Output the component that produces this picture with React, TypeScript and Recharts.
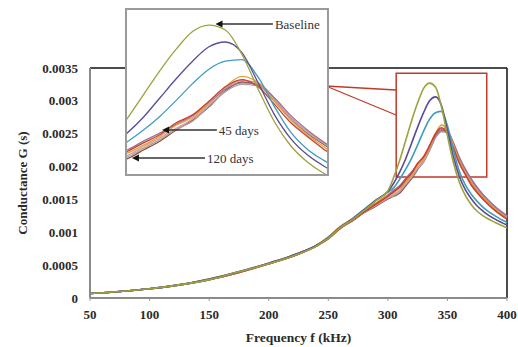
import { LineChart, Line, XAxis, YAxis, ReferenceLine, ReferenceArea } from 'recharts';

const frequencies = [50, 75, 100, 125, 150, 175, 200, 225, 240, 250, 260, 270, 280, 290, 300, 305, 310, 315, 320, 325, 330, 335, 340, 345, 350, 355, 360, 365, 370, 375, 380, 390, 400];

const baseline = [0.00007, 0.0001, 0.00014, 0.0002, 0.00028, 0.0004, 0.00052, 0.00067, 0.00079, 0.00091, 0.00107, 0.00119, 0.00133, 0.00148, 0.00163,
    0.00184, 0.0021, 0.0024, 0.0027, 0.00297, 0.00319, 0.00327, 0.00321, 0.00291, 0.00247, 0.00206, 0.00176, 0.00156, 0.00142, 0.00132, 0.00125, 0.00115, 0.00107];
const day15 = [0.00007, 0.0001, 0.00014, 0.0002, 0.00029, 0.0004, 0.00053, 0.00068, 0.0008, 0.00092, 0.00108, 0.0012, 0.00134, 0.00149, 0.00162,
    0.00175, 0.00192, 0.00212, 0.00236, 0.0026, 0.00282, 0.003, 0.00306, 0.00293, 0.00255, 0.00215, 0.00185, 0.00165, 0.00151, 0.0014, 0.00132, 0.0012, 0.00111];
const day30 = [0.00007, 0.0001, 0.00014, 0.0002, 0.00028, 0.0004, 0.00053, 0.00068, 0.0008, 0.00092, 0.00108, 0.0012, 0.00135, 0.00149, 0.00161,
    0.00168, 0.00181, 0.00196, 0.00213, 0.00233, 0.00254, 0.00272, 0.00282, 0.00284, 0.00262, 0.00225, 0.00193, 0.00172, 0.00158, 0.00147, 0.00138, 0.00125, 0.00115];
const day45 = [0.00007, 0.0001, 0.00014, 0.0002, 0.00028, 0.00039, 0.00052, 0.00067, 0.00079, 0.00091, 0.00106, 0.00118, 0.00131, 0.00143, 0.00155,
    0.00162, 0.00169, 0.0018, 0.0019, 0.00205, 0.00215, 0.00232, 0.0025, 0.00259, 0.0025, 0.00228, 0.00205, 0.00188, 0.00172, 0.0016, 0.0015, 0.00133, 0.0012];
const day60 = [0.00007, 0.0001, 0.00014, 0.0002, 0.00029, 0.0004, 0.00053, 0.00068, 0.0008, 0.00093, 0.00109, 0.0012, 0.00133, 0.00144, 0.00156,
    0.00161, 0.00167, 0.00177, 0.00188, 0.00202, 0.00212, 0.0023, 0.0025, 0.00263, 0.00255, 0.00232, 0.00208, 0.0019, 0.00175, 0.00162, 0.00152, 0.00135, 0.00121];
const day75 = [0.00007, 0.0001, 0.00014, 0.0002, 0.00028, 0.0004, 0.00052, 0.00067, 0.0008, 0.00092, 0.00107, 0.00119, 0.00132, 0.00144, 0.00157,
    0.00164, 0.00171, 0.00182, 0.00192, 0.00203, 0.00214, 0.0023, 0.00247, 0.00255, 0.00253, 0.00236, 0.00214, 0.00196, 0.00181, 0.00168, 0.00157, 0.00139, 0.00125];
const day90 = [0.00007, 0.0001, 0.00014, 0.0002, 0.00028, 0.00039, 0.00052, 0.00068, 0.0008, 0.00091, 0.00107, 0.00118, 0.00131, 0.00142, 0.00153,
    0.00158, 0.00164, 0.00175, 0.00186, 0.00198, 0.0021, 0.00228, 0.00248, 0.00258, 0.00255, 0.00235, 0.00212, 0.00194, 0.0018, 0.00167, 0.00156, 0.00138, 0.00124];
const day105 = [0.00007, 0.0001, 0.00014, 0.0002, 0.00028, 0.00039, 0.00052, 0.00067, 0.00079, 0.00091, 0.00106, 0.00118, 0.00131, 0.00141, 0.00152,
    0.00156, 0.00162, 0.00173, 0.00184, 0.00197, 0.00207, 0.00226, 0.00244, 0.00253, 0.00251, 0.00233, 0.0021, 0.00193, 0.00179, 0.00166, 0.00156, 0.00138, 0.00124];
const day120 = [0.00007, 0.0001, 0.00014, 0.0002, 0.00028, 0.00039, 0.00052, 0.00067, 0.00079, 0.0009, 0.00106, 0.00117, 0.0013, 0.0014, 0.00151,
    0.00155, 0.0016, 0.00171, 0.00182, 0.00196, 0.00208, 0.00225, 0.00245, 0.00256, 0.00252, 0.00232, 0.0021, 0.00192, 0.00178, 0.00165, 0.00155, 0.00137, 0.00123];

const xTicks = [50, 100, 150, 200, 250, 300, 350, 400];
const yTicks = [0, 0.0005, 0.001, 0.0015, 0.002, 0.0025, 0.003, 0.0035];

// inset arrows: tip point on the curve, tail frequency where the label starts
const arrows = [
    { label: 'Baseline', tipF: 337, tipG: 0.003285, tailF: 354.5 },
    { label: '45 days', tipF: 320.7, tipG: 0.00196, tailF: 337.4 },
    { label: '120 days', tipF: 311.5, tipG: 0.00161, tailF: 333.8 },
];

const series = [
    { key: 'day120', color: '#8a4a36', values: day120 },
    { key: 'day105', color: '#a9a4a4', values: day105 },
    { key: 'day90', color: '#d99aa6', values: day90 },
    { key: 'day75', color: '#9b7396', values: day75 },
    { key: 'day60', color: '#e3a23a', values: day60 },
    { key: 'day45', color: '#c8402f', values: day45 },
    { key: 'day30', color: '#3f9dbd', values: day30 },
    { key: 'day15', color: '#5b4a94', values: day15 },
    { key: 'baseline', color: '#9ea23c', values: baseline },
];

const rows = frequencies.map((f, i) => {
    const row: Record<string, number> = { f };
    series.forEach((s) => { row[s.key] = s.values[i]; });
    return row;
});

const serif = '"Liberation Serif", "Times New Roman", serif';
const tickStyle = { fontSize: 13, fontWeight: 'bold', fill: '#2a2a2a', fontFamily: serif };
const red = '#c0392b';

const arrowShape = (text: string) => (props: any) => {
    const { x1, y1, x2, y2 } = props;
    return (
        <g>
            <line x1={x1 + 5} y1={y1} x2={x2} y2={y2} stroke="#333" strokeWidth={1.3} />
            <polygon points={`${x1},${y1} ${x1 + 7},${y1 - 3.5} ${x1 + 7},${y1 + 3.5}`} fill="#111" />
            <text x={x2 + 2} y={y2} dy="0.35em" fontSize={13} fontFamily={serif} fill="#333">{text}</text>
        </g>
    );
};

export default function App() {
    return (
        <div style={{ position: 'absolute', left: 0, top: 0, width: 518, height: 347, background: '#fff' }}>
            <LineChart width={518} height={347} data={rows} margin={{ top: 68, right: 11, bottom: 0, left: 0 }}>
                <XAxis
                    dataKey="f"
                    type="number"
                    domain={[50, 400]}
                    ticks={xTicks}
                    height={49}
                    tick={tickStyle}
                    tickSize={3}
                    tickMargin={9}
                    tickLine={{ stroke: '#999' }}
                    axisLine={{ stroke: '#8a8a8a', strokeWidth: 2 }}
                    label={{ value: 'Frequency f (kHz)', position: 'insideBottom', offset: 5, style: { ...tickStyle, fontSize: 13.5 } }}
                />
                <YAxis
                    type="number"
                    domain={[0, 0.0035]}
                    ticks={yTicks}
                    width={90}
                    tick={tickStyle}
                    tickLine={false}
                    tickSize={0}
                    tickMargin={12}
                    axisLine={{ stroke: '#8a8a8a', strokeWidth: 2 }}
                    label={{ value: 'Conductance G (s)', angle: -90, position: 'insideLeft', offset: 22, style: { ...tickStyle, textAnchor: 'middle' } }}
                />
                <ReferenceLine y={0.0035} stroke="#111" strokeWidth={1.5} />
                <ReferenceLine x={400} stroke="#111" strokeWidth={1.5} />
                <ReferenceArea x1={307} x2={383} y1={0.00184} y2={0.00342} fill="none" stroke={red} strokeWidth={1.5} />
                <ReferenceLine segment={[{ x: 248, y: 0.003226 }, { x: 306.8, y: 0.003165 }]} stroke={red} strokeWidth={1.3} />
                <ReferenceLine segment={[{ x: 248, y: 0.003226 }, { x: 306.8, y: 0.002785 }]} stroke={red} strokeWidth={1.3} />
                {series.map((s) => (
                    <Line key={s.key} dataKey={s.key} type="monotone" stroke={s.color} strokeWidth={1.6} dot={false} isAnimationActive={false} />
                ))}
            </LineChart>
            <div style={{ position: 'absolute', left: 125, top: 8, width: 204, height: 168, border: '2px solid #9a9a9a', boxSizing: 'border-box', background: '#fff' }}>
                <LineChart width={200} height={164} data={rows} margin={{ top: 0, right: 0, bottom: 0, left: 0 }}>
                    <XAxis dataKey="f" type="number" domain={[310, 371]} allowDataOverflow hide />
                    <YAxis type="number" domain={[0.00141, 0.00346]} allowDataOverflow hide />
                    {series.map((s) => (
                        <Line key={s.key} dataKey={s.key} type="monotone" stroke={s.color} strokeWidth={1.3} dot={false} isAnimationActive={false} />
                    ))}
                    {arrows.map((a) => (
                        <ReferenceLine
                            key={a.label}
                            segment={[{ x: a.tipF, y: a.tipG }, { x: a.tailF, y: a.tipG }]}
                            shape={arrowShape(a.label)}
                        />
                    ))}
                </LineChart>
            </div>
        </div>
    );
}
